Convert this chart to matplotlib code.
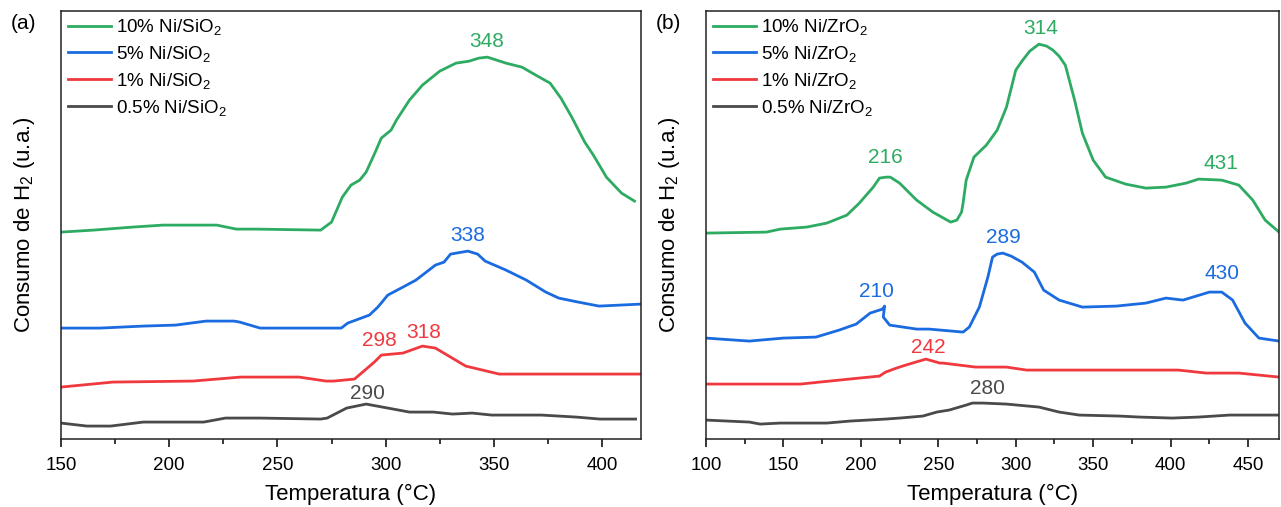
import numpy as np
import matplotlib
matplotlib.use('Agg')
import matplotlib.pyplot as plt
from matplotlib.ticker import MultipleLocator

plt.rcParams['font.family'] = ['Liberation Sans', 'DejaVu Sans']
plt.rcParams['mathtext.fontset'] = 'custom'
plt.rcParams['mathtext.rm'] = 'Liberation Sans'
plt.rcParams['mathtext.it'] = 'Liberation Sans'

# colores
c_g = '#2eab62'
c_b = '#1a6be0'
c_r = '#f0393f'
c_k = '#4a4a4a'

# ---- (a) Ni/SiO2 ----
t_a10 = [150, 165, 183, 197, 222, 231, 240, 270, 275, 280, 284, 288, 291, 295, 298, 302.5, 305, 311, 317, 325,
         332.5, 338.6, 343, 347, 355.6, 363, 369.4, 376, 381, 386, 392, 396, 402, 409, 415]
y_a10 = [207, 209, 212, 214, 214, 210, 210, 209, 217, 242, 254, 259, 267, 286, 301, 309, 319, 339, 354, 368,
         376, 378, 381, 382, 376, 372, 364, 356, 341, 322, 297, 284, 262, 246, 238]

t_a5 = [150, 168, 188, 203, 217, 230, 232.6, 242, 279.5, 282.5, 292.5, 296.4, 301, 308, 314, 323, 327, 330,
        338, 342.5, 346, 355.6, 365, 374, 380, 389, 398.6, 418]
y_a5 = [111, 111, 113, 114, 118, 118, 117, 111, 111, 116, 124, 132, 144, 152, 159, 174, 177, 185,
        188, 185, 178, 169, 159, 147, 141, 137, 133, 135]

t_a1 = [150, 174, 211, 233, 260, 272.5, 276, 285.6, 294.8, 298, 308, 317, 323, 337, 352.5, 418]
y_a1 = [52, 57, 58, 62, 62, 58, 58, 60, 77, 84, 86, 93, 91, 73, 65, 65]

t_a05 = [150, 162, 173, 188, 216, 226, 242, 270, 273, 282, 291, 311, 322, 331, 340, 349, 372, 388, 399, 415.5]
y_a05 = [16, 13, 13, 17, 17, 21, 21, 20, 21, 31, 35, 27, 27, 25, 26, 24, 24, 22, 20, 20]

# ---- (b) Ni/ZrO2 ----
t_b10 = [100, 139, 148, 165, 178, 191, 199, 208, 212, 216.4, 219, 225, 236, 246.5, 258, 262, 265, 266, 268,
         273, 281, 288, 294, 300, 304, 309, 315, 320, 324, 328, 332, 338, 343, 350, 358, 371, 384, 397, 410,
         418, 433, 444, 453, 461, 470]
y_b10 = [206, 207, 210, 212, 216, 224, 236, 252, 261, 262, 262, 256, 239, 227, 217, 219, 227, 236, 259,
         282, 294, 309, 332, 369, 378, 388, 395, 393, 389, 383, 374, 339, 306, 279, 262, 255, 251, 252, 256,
         260, 259, 254, 239, 219, 207]

t_b5 = [100, 128, 150, 171, 186, 197, 206, 214, 215.3, 214.5, 218.6, 236, 244, 266, 270, 276.5, 282, 285,
        288, 291.6, 297, 304, 312, 318, 328, 343, 365, 384, 397, 408, 425, 433, 440, 448, 457, 470]
y_b5 = [101, 98, 101, 102, 109, 115, 126, 130, 133, 122, 114, 110, 110, 107, 112, 132, 162, 182,
        185, 186, 183, 177, 167, 149, 139, 132, 133, 136, 141, 139, 147, 147, 139, 116, 101, 98]

t_b1 = [100, 161, 173.5, 199, 212, 216, 223, 229, 242, 251, 253, 274, 294, 307, 405, 423, 444, 470]
y_b1 = [55, 55, 57, 61, 63, 67, 71, 74, 80, 76, 76, 72, 72, 69, 69, 66, 66, 62]

t_b05 = [100, 128, 135, 148, 178, 193, 216, 225, 240, 249, 257, 268, 272, 279, 294, 315, 328, 341, 367, 380,
         401, 418, 438, 470]
y_b05 = [19, 17, 15, 16, 16, 18, 20, 21, 23, 27, 29, 34, 36, 36, 35, 32, 27, 24, 23, 22, 21, 22, 24, 24]

# etiquetas de picos: (texto, x, y, color)
picos_a = [('348', 346.5, 398, c_g), ('338', 338, 204, c_b), ('298', 297, 99, c_r),
           ('318', 317.4, 107, c_r), ('290', 291.6, 46, c_k)]
picos_b = [('216', 216, 282, c_g), ('314', 316.3, 411, c_g), ('431', 432.3, 276, c_g),
           ('210', 210, 148, c_b), ('289', 292.2, 202, c_b), ('430', 433.3, 166, c_b),
           ('242', 243.3, 92, c_r), ('280', 281.9, 51, c_k)]

fig = plt.figure(figsize=(12.81, 5.07), dpi=100)
ax1 = fig.add_axes([0.0476, 0.134, 0.4528, 0.844])
ax2 = fig.add_axes([0.5511, 0.134, 0.4474, 0.844])

lw = 2.0
ax1.plot(t_a10, y_a10, color=c_g, lw=lw, label='10% Ni/SiO$_2$')
ax1.plot(t_a5, y_a5, color=c_b, lw=lw, label='5% Ni/SiO$_2$')
ax1.plot(t_a1, y_a1, color=c_r, lw=lw, label='1% Ni/SiO$_2$')
ax1.plot(t_a05, y_a05, color=c_k, lw=lw, label='0.5% Ni/SiO$_2$')

ax2.plot(t_b10, y_b10, color=c_g, lw=lw, label='10% Ni/ZrO$_2$')
ax2.plot(t_b5, y_b5, color=c_b, lw=lw, label='5% Ni/ZrO$_2$')
ax2.plot(t_b1, y_b1, color=c_r, lw=lw, label='1% Ni/ZrO$_2$')
ax2.plot(t_b05, y_b05, color=c_k, lw=lw, label='0.5% Ni/ZrO$_2$')

for txt, x, y, c in picos_a:
    ax1.text(x, y, txt, color=c, fontsize=15, ha='center', va='center')
for txt, x, y, c in picos_b:
    ax2.text(x, y, txt, color=c, fontsize=15, ha='center', va='center')

ax1.set_xlim(150, 418)
ax2.set_xlim(100, 470)
for ax, letra in [(ax1, '(a)'), (ax2, '(b)')]:
    ax.set_ylim(0, 428)
    ax.set_yticks([])
    ax.xaxis.set_major_locator(MultipleLocator(50))
    ax.xaxis.set_minor_locator(MultipleLocator(25))
    ax.tick_params(axis='x', which='major', direction='out', length=6, width=1.1, labelsize=13.5, pad=7)
    ax.tick_params(axis='x', which='minor', direction='out', length=3.5, width=1.1)
    for s in ax.spines.values():
        s.set_linewidth(1.1)
        s.set_color('#222222')
    ax.set_xlabel('Temperatura (°C)', fontsize=16, labelpad=7)
    ax.set_ylabel('Consumo de H$_2$ (u.a.)', fontsize=16, labelpad=17)
    ax.legend(loc='upper left', bbox_to_anchor=(-0.008, 1.012), frameon=False, fontsize=13.5,
              handlelength=2.3, handletextpad=0.3, labelspacing=0.36, borderaxespad=0.2)
    pos = ax.get_position()
    fig.text(pos.x0 - 0.029, 0.953, letra, fontsize=15, ha='center', va='center')

fig.savefig('out.png', dpi=100)
